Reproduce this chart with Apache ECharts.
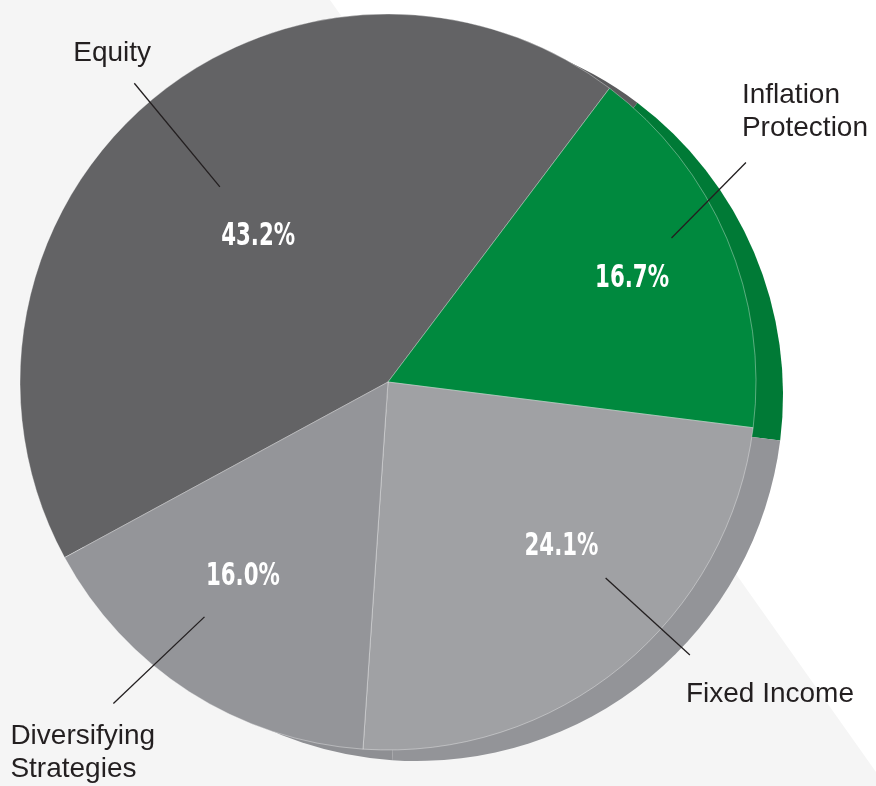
<!DOCTYPE html>
<html lang="en">
<head>
    <meta charset="UTF-8">
    <title>Asset Allocation</title>
    <script src="https://cdn.jsdelivr.net/npm/echarts@6/dist/echarts.min.js"></script>
    <style>
        html, body { margin: 0; padding: 0; background: #fff; }
        #main { width: 876px; height: 786px; }
    </style>
</head>
<body>
    <div id="main"></div>
    <script>
        // data
        var names = ['Equity', 'Inflation\nProtection', 'Fixed Income', 'Diversifying\nStrategies'];
        var values = [43.2, 16.7, 24.1, 16.0];

        // styles
        var faceColors = ['#636365', '#00893e', '#a0a1a4', '#949599'];
        var rimColors = ['#5b5b5d', '#007a36', '#939498', '#8e8f93'];

        // label placement: [angle offset from slice middle (deg), fraction of radius]
        var pctPos = [[1, 0.53], [0, 0.72], [7, 0.65], [-4, 0.66]];
        var lineIn = [[0, 0.70], [4, 0.864], [8.5, 0.796], [-5.3, 0.81]];
        var lineOut = [[-0.4, 1.065], [8.6, 1.141], [8.4, 1.106], [-7.8, 1.149]];
        var textOff = [[-61, -30], [-4, -51], [-4, 39], [-103, 49]];

        var cx = 388, cy = 382, R = 368, startAngle = 208.5;
        var total = values.reduce(function (s, v) { return s + v; }, 0);

        function midAngle(i) {
            var a = startAngle;
            for (var j = 0; j < i; j++) a -= values[j] / total * 360;
            return a - values[i] / total * 180;
        }
        function polar(i, p) {
            var a = (midAngle(i) + p[0]) * Math.PI / 180;
            return [cx + p[1] * R * Math.cos(a), cy - p[1] * R * Math.sin(a)];
        }

        // condensed percentage labels (no narrow font installed, so squeeze them)
        var pctLabels = values.map(function (v, i) {
            var pt = polar(i, pctPos[i]);
            return {
                type: 'text',
                silent: true,
                z: 20,
                x: pt[0],
                y: pt[1],
                scaleX: 0.74,
                style: {
                    text: v.toFixed(1) + '%',
                    fill: '#fff',
                    fontFamily: 'DejaVu Sans Condensed',
                    fontSize: 32,
                    fontWeight: 'bold',
                    textAlign: 'center',
                    textVerticalAlign: 'middle'
                }
            };
        });

        var myChart = echarts.init(document.getElementById('main'));
        var option = {
            animation: false,
            graphic: [{
                type: 'polygon',
                silent: true,
                z: -10,
                shape: { points: [[0, 0], [330, 0], [876, 772], [876, 786], [0, 786]] },
                style: { fill: '#f5f5f5' }
            }].concat(pctLabels),
            series: [
                { // rim / side of the disc
                    type: 'pie',
                    z: 1,
                    silent: true,
                    center: [cx + 29, cy + 13],
                    radius: R - 2,
                    startAngle: startAngle,
                    avoidLabelOverlap: false,
                    label: { show: false },
                    labelLine: { show: false },
                    data: names.map(function (n, i) {
                        return { name: n, value: values[i], itemStyle: { color: rimColors[i] } };
                    })
                },
                { // face
                    type: 'pie',
                    z: 2,
                    silent: true,
                    center: [cx, cy],
                    radius: R,
                    startAngle: startAngle,
                    avoidLabelOverlap: false,
                    itemStyle: { borderColor: 'rgba(255,255,255,0.35)', borderWidth: 1 },
                    label: { show: false },
                    labelLine: { show: false },
                    data: names.map(function (n, i) {
                        return { name: n, value: values[i], itemStyle: { color: faceColors[i] } };
                    })
                },
                { // category names with leader lines
                    type: 'pie',
                    z: 3,
                    silent: true,
                    center: [cx, cy],
                    radius: R,
                    startAngle: startAngle,
                    avoidLabelOverlap: false,
                    itemStyle: { color: 'rgba(0,0,0,0)' },
                    label: {
                        show: true,
                        position: 'outside',
                        formatter: '{b}',
                        color: '#231f20',
                        fontFamily: "'Liberation Sans', Arial, sans-serif",
                        fontSize: 28,
                        lineHeight: 33
                    },
                    labelLine: { show: true, length: 10, length2: 10, lineStyle: { color: '#231f20', width: 1.3 } },
                    labelLayout: function (p) {
                        var i = p.dataIndex;
                        var a = polar(i, lineIn[i]), b = polar(i, lineOut[i]);
                        return {
                            x: b[0] + textOff[i][0],
                            y: b[1] + textOff[i][1],
                            align: 'left',
                            verticalAlign: 'middle',
                            labelLinePoints: [a, b]
                        };
                    },
                    data: names.map(function (n, i) {
                        return { name: n, value: values[i] };
                    })
                }
            ]
        };
        myChart.setOption(option);
    </script>
</body>
</html>
